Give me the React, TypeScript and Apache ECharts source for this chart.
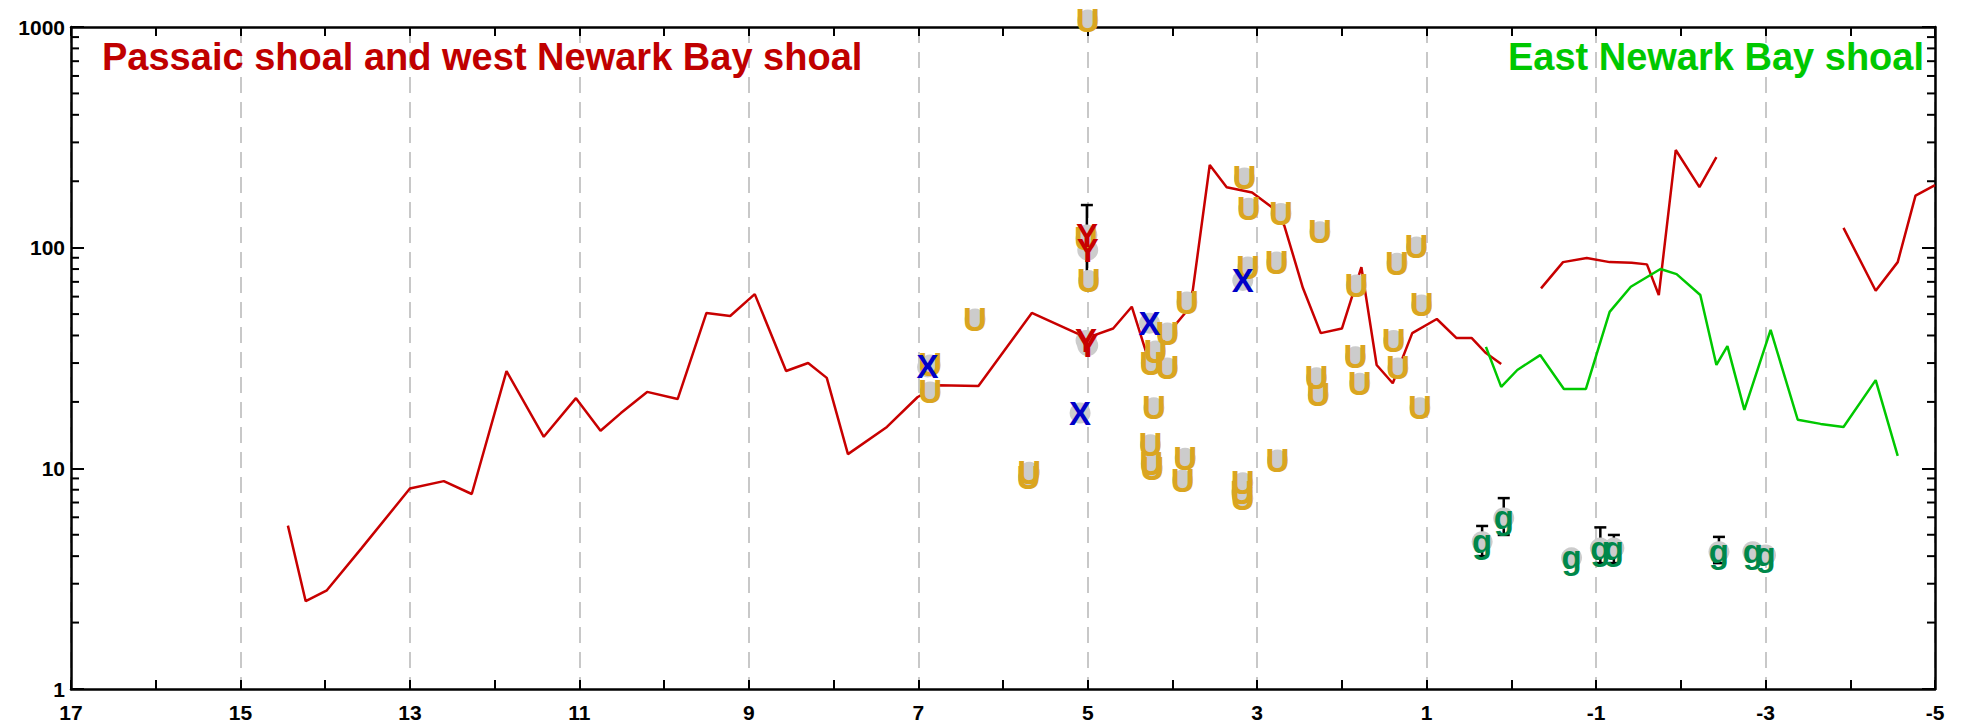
import React, { useEffect, useRef } from 'react';
import * as echarts from 'echarts';

const FONT = '"Liberation Sans", Arial, Helvetica, sans-serif';
const MARK_FONT = '"Liberation Sans Narrow", "Arial Narrow", "Liberation Sans", Arial, sans-serif';

// x-axis range (river mile, inverted) and y-axis range (log)
const X_MIN = -5;
const X_MAX = 17;
const Y_MIN = 1;
const Y_MAX = 1000;

// Red line: Passaic shoal and west Newark Bay shoal (three segments)
const redSeg1X = [14.44, 14.23, 13.98, 13.57, 13.0, 12.6, 12.27, 11.86, 11.42, 11.04, 10.75, 10.51, 10.2, 9.84, 9.5, 9.22, 8.93, 8.56, 8.3, 8.08, 7.83, 7.37, 7.01, 6.77, 6.29, 5.66, 5.01, 4.7, 4.48, 4.27, 4.12, 3.85, 3.76, 3.56, 3.36, 3.06, 2.83, 2.68, 2.46, 2.25, 2.0, 1.77, 1.59, 1.4, 1.17, 0.88, 0.65, 0.47, 0.3, 0.12];
const redSeg1Y = [5.5, 2.5, 2.8, 4.35, 8.1, 8.75, 7.65, 27.6, 13.9, 20.8, 14.8, 17.8, 22.2, 20.6, 50.6, 49, 61.6, 27.6, 30, 25.7, 11.6, 15.4, 21, 23.8, 23.6, 50.6, 39, 43, 54, 30, 38, 50.6, 64, 237, 188, 178, 153, 126, 65.6, 41, 43, 81.6, 29.4, 24.3, 41, 47.5, 39, 39, 33.3, 29.7];
const redSeg2X = [-0.35, -0.61, -0.89, -1.16, -1.42, -1.6, -1.74, -1.94, -2.22, -2.42];
const redSeg2Y = [65.4, 86, 89.8, 86, 85.5, 84, 61, 277, 188, 257];
const redSeg3X = [-3.92, -4.3, -4.56, -4.77, -5.0];
const redSeg3Y = [123, 63.8, 86, 172, 192];

// Green line: East Newark Bay shoal
const greenX = [0.3, 0.12, -0.07, -0.34, -0.62, -0.88, -1.16, -1.41, -1.76, -1.95, -2.23, -2.42, -2.55, -2.75, -3.06, -3.38, -3.65, -3.92, -4.3, -4.56];
const greenY = [35.5, 23.4, 27.9, 32.6, 22.9, 22.9, 51.2, 66.5, 80, 75.9, 61, 29.4, 35.8, 18.4, 42.4, 16.6, 15.9, 15.4, 25.1, 11.4];

// Letter markers
const uX = [6.86, 6.86, 6.33, 5.69, 5.7, 5.0, 5.02, 4.99, 4.2, 4.25, 4.06, 4.22, 4.26, 4.25, 4.24, 4.06, 3.83, 3.85, 3.88, 3.15, 3.1, 3.11, 3.17, 3.18, 3.17, 2.72, 2.77, 2.76, 2.26, 2.3, 2.28, 1.83, 1.84, 1.79, 1.35, 1.39, 1.34, 1.12, 1.06, 1.08];
const uY = [29.4, 22.2, 47.5, 9.6, 9.1, 1075, 110, 71, 34, 30, 28.5, 18.8, 12.8, 10.5, 10.0, 41, 56.7, 11.1, 8.85, 207, 151, 81.7, 8.6, 7.8, 7.3, 143, 86, 10.9, 118, 25.7, 21.5, 67.7, 32, 24.3, 85, 38, 28.5, 100.7, 55, 18.8];
const xX = [6.89, 5.09, 4.27, 3.17];
const xY = [28.8, 17.8, 45.5, 71];
const yX = [5.01, 5.0, 5.02, 5.0];
const yY = [114, 97.5, 38, 36];
const gX = [0.345, 0.09, -0.71, -1.05, -1.21, -2.45, -2.85, -3.0];
const gY = [4.65, 5.96, 3.93, 4.35, 4.35, 4.19, 4.19, 4.05];

// Error bars: x, low, high
const errX = [5.01, 0.345, 0.09, -1.05, -1.21, -2.45];
const errLow = [71.3, 4.0, 4.99, 3.72, 3.72, 3.72];
const errHigh = [156, 5.48, 7.33, 5.4, 4.99, 4.89];

// Log minor tick values
const minorTicks = [2, 3, 4, 5, 6, 7, 8, 9, 20, 30, 40, 50, 60, 70, 80, 90, 200, 300, 400, 500, 600, 700, 800, 900];

const zip = (a: number[], b: number[]) => a.map((v, i) => [v, b[i]]);

function letterSeries(name: string, xs: number[], ys: number[], letter: string, color: string) {
  return {
    name,
    type: 'scatter',
    data: zip(xs, ys),
    symbol: 'circle',
    symbolSize: 21,
    clip: false,
    itemStyle: { color: '#cccccc', opacity: 1 },
    label: {
      show: true,
      position: 'inside',
      formatter: letter,
      color,
      opacity: 1,
      fontSize: 33,
      fontWeight: 'bold',
      fontFamily: MARK_FONT,
      textBorderWidth: 0,
      textBorderColor: 'transparent',
      textShadowBlur: 0,
    },
    z: 5,
  };
}

function lineSeries(xs: number[], ys: number[], color: string) {
  return {
    type: 'line',
    data: zip(xs, ys),
    showSymbol: false,
    symbol: 'none',
    lineStyle: { color, width: 2.5 },
    z: 3,
  };
}

export default function App() {
  const ref = useRef<HTMLDivElement>(null);
  useEffect(() => {
    const chart = echarts.init(ref.current!, undefined, { renderer: 'svg' });
    const xAxisBase = {
      type: 'value',
      min: X_MIN,
      max: X_MAX,
      interval: 1,
      inverse: true,
      axisLine: { show: true, onZero: false, lineStyle: { color: '#000', width: 2.5 } },
      axisTick: { show: true, inside: true, length: 9, lineStyle: { color: '#000', width: 2 } },
    };
    const yAxisBase = {
      type: 'log',
      logBase: 10,
      min: Y_MIN,
      max: Y_MAX,
      axisLine: { show: true, onZero: false, lineStyle: { color: '#000', width: 2.5 } },
      axisTick: { show: true, inside: true, length: 13, lineStyle: { color: '#000', width: 2 } },
      splitLine: { show: false },
    };
    chart.setOption({
      animation: false,
      backgroundColor: '#ffffff',
      grid: { left: 71, right: 27, top: 27, bottom: 38, containLabel: false },
      xAxis: [
        {
          ...xAxisBase,
          position: 'bottom',
          axisLabel: {
            show: true,
            margin: 13,
            color: '#000',
            fontSize: 21,
            fontWeight: 'bold',
            fontFamily: FONT,
            formatter: (v: number) => (Math.abs(Math.round(v)) % 2 === 1 ? String(v) : ''),
          },
          splitLine: {
            show: true,
            lineStyle: { color: ['#c8c8c8', 'rgba(0,0,0,0)'], width: 2, type: [16, 9] },
          },
        },
        {
          ...xAxisBase,
          position: 'top',
          axisLabel: { show: false },
          splitLine: { show: false },
        },
      ],
      yAxis: [
        {
          ...yAxisBase,
          position: 'left',
          axisLabel: {
            show: true,
            margin: 6,
            color: '#000',
            fontSize: 21,
            fontWeight: 'bold',
            fontFamily: FONT,
            formatter: (v: number) => String(Math.round(v)),
          },
        },
        {
          ...yAxisBase,
          position: 'right',
          axisLabel: { show: false },
        },
      ],
      graphic: [
        {
          type: 'text',
          x: 102,
          y: 57,
          z: 10,
          style: {
            text: 'Passaic shoal and west Newark Bay shoal',
            fill: '#c00000',
            fontSize: 38,
            fontWeight: 'bold',
            fontFamily: FONT,
            align: 'left',
            verticalAlign: 'middle',
          },
        },
        {
          type: 'text',
          x: 1924,
          y: 57,
          z: 10,
          style: {
            text: 'East Newark Bay shoal',
            fill: '#00c800',
            fontSize: 38,
            fontWeight: 'bold',
            fontFamily: FONT,
            align: 'right',
            verticalAlign: 'middle',
          },
        },
      ],
      series: [
        {
          type: 'custom',
          name: 'minorTicks',
          clip: false,
          data: minorTicks.map((v) => [X_MAX, v]),
          encode: { x: 0, y: 1 },
          renderItem: (params: any, api: any) => {
            const v = api.value(1);
            const l = api.coord([X_MAX, v]);
            const r = api.coord([X_MIN, v]);
            const style = { stroke: '#000', lineWidth: 2 };
            return {
              type: 'group',
              children: [
                { type: 'line', shape: { x1: l[0], y1: l[1], x2: l[0] + 8, y2: l[1] }, style },
                { type: 'line', shape: { x1: r[0], y1: r[1], x2: r[0] - 8, y2: r[1] }, style },
              ],
            };
          },
          z: 2,
        },
        lineSeries(redSeg1X, redSeg1Y, '#c80000'),
        lineSeries(redSeg2X, redSeg2Y, '#c80000'),
        lineSeries(redSeg3X, redSeg3Y, '#c80000'),
        lineSeries(greenX, greenY, '#00c800'),
        {
          type: 'custom',
          name: 'errorBars',
          clip: false,
          data: errX.map((x, i) => [x, errLow[i], errHigh[i]]),
          encode: { x: 0, y: [1, 2] },
          renderItem: (params: any, api: any) => {
            const x = api.value(0);
            const lo = api.coord([x, api.value(1)]);
            const hi = api.coord([x, api.value(2)]);
            const style = { stroke: '#000', lineWidth: 2.5 };
            const hw = 6;
            return {
              type: 'group',
              children: [
                { type: 'line', shape: { x1: hi[0], y1: hi[1], x2: lo[0], y2: lo[1] }, style },
                { type: 'line', shape: { x1: hi[0] - hw, y1: hi[1], x2: hi[0] + hw, y2: hi[1] }, style },
                { type: 'line', shape: { x1: lo[0] - hw, y1: lo[1], x2: lo[0] + hw, y2: lo[1] }, style },
              ],
            };
          },
          z: 4,
        },
        letterSeries('U', uX, uY, 'U', '#daa520'),
        letterSeries('X', xX, xY, 'X', '#0000c8'),
        letterSeries('Y', yX, yY, 'Y', '#c80000'),
        letterSeries('g', gX, gY, 'g', '#00884a'),
      ],
    });
    return () => chart.dispose();
  }, []);
  return (
    <div
      ref={ref}
      style={{ position: 'fixed', left: 0, top: 0, width: 1962, height: 727, background: '#fff' }}
    />
  );
}
